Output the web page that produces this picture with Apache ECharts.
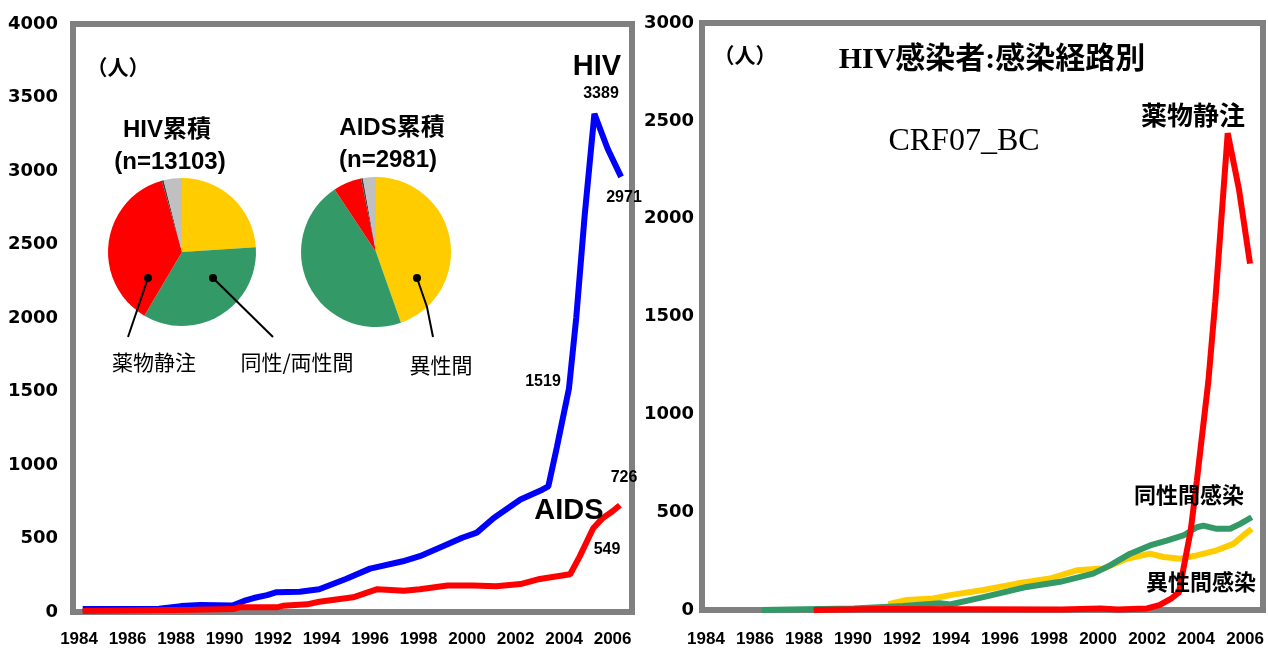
<!DOCTYPE html>
<html>
<head>
<meta charset="utf-8">
<script src="https://cdn.jsdelivr.net/npm/echarts@6/dist/echarts.min.js"></script>
<style>
html, body { margin: 0; padding: 0; background: #fff; }
#main { width: 1268px; height: 648px; }
</style>
</head>
<body>
<div id="main"></div>
<script>
// x tick labels (both panels)
var yearTicks = [1984, 1986, 1988, 1990, 1992, 1994, 1996, 1998, 2000, 2002, 2004, 2006];

// left panel: reported HIV / AIDS
var hivYears = [1984.15, 1987.3, 1988.2, 1989.0, 1990.35, 1990.8, 1991.2, 1991.75, 1992.15, 1993.1, 1993.9, 1995.0, 1996.0, 1997.35, 1998.05, 1999.0, 1999.8, 2000.4, 2001.1, 2002.2, 2003.1, 2003.35, 2003.7, 2004.2, 2004.5, 2004.85, 2005.25, 2005.8, 2006.35];
var hivValues = [20, 22, 40, 47, 45, 75, 95, 115, 135, 138, 155, 225, 295, 345, 380, 447, 505, 540, 640, 765, 832, 855, 1120, 1519, 2000, 2700, 3389, 3150, 2960];
var aidsYears = [1984.15, 1988.7, 1990.35, 1990.6, 1992.15, 1992.4, 1993.4, 1993.9, 1995.3, 1996.3, 1997.4, 1998.05, 1999.2, 2000.25, 2001.2, 2002.2, 2003.0, 2004.25, 2004.65, 2005.2, 2005.6, 2006.0, 2006.3];
var aidsValues = [7, 15, 20, 32, 32, 42, 52, 70, 100, 155, 145, 155, 180, 180, 175, 190, 225, 257, 380, 570, 640, 685, 726];

// pies (share, %)
var pieNames = ['異性間', '同性/両性間', '薬物静注', 'その他', '不明'];
var hivPieValues = [24.0, 34.5, 37.1, 0.4, 4.0];
var aidsPieValues = [44.6, 46.1, 6.1, 0.4, 2.8];
var pieColors = ['#FFCC00', '#339966', '#FF0000', '#404040', '#C0C0C0'];

// right panel: HIV by route
var iduYears = [1988.4, 1991.0, 1998.5, 2000.1, 2000.8, 2002.0, 2002.5, 2003.0, 2003.3, 2003.78, 2004.03, 2004.5, 2004.78, 2005.29, 2005.75, 2006.2];
var iduValues = [0, 5, 3, 8, 2, 8, 25, 60, 90, 406, 660, 1168, 1574, 2437, 2150, 1770];
var homoYears = [1986.27, 1988.04, 1990.04, 1992.05, 1993.55, 1993.96, 1995.32, 1997.09, 1998.45, 1999.8, 2000.49, 2001.31, 2002.12, 2002.8, 2003.48, 2004.03, 2004.3, 2004.84, 2005.39, 2005.8, 2006.27];
var homoValues = [0, 4, 8, 20, 35, 28, 66, 118, 144, 186, 228, 288, 330, 355, 381, 423, 431, 415, 415, 440, 474];
var heteroYears = [1991.44, 1992.19, 1993.28, 1993.96, 1995.32, 1996.68, 1998.04, 1999.13, 2000.22, 2001.17, 2002.12, 2002.67, 2003.35, 2004.03, 2004.84, 2005.52, 2005.93, 2006.27];
var heteroValues = [30, 51, 59, 76, 102, 135, 161, 203, 212, 262, 288, 271, 262, 279, 305, 338, 381, 415];

function pairs(xs, ys) {
  return xs.map(function (x, i) { return [x, ys[i]]; });
}
function pieData(vals) {
  return vals.map(function (v, i) {
    return { name: pieNames[i], value: v, itemStyle: { color: pieColors[i] } };
  });
}
function txt(text, x, y, font, align) {
  return {
    type: 'text', z: 100,
    style: {
      text: text, x: x, y: y, font: font, fill: '#000',
      align: align || 'center', verticalAlign: 'middle',
      textAlign: align || 'center', textVerticalAlign: 'middle'
    }
  };
}
function plain(v) { return String(Math.round(v)); }

var cjk = '"Noto Sans CJK JP"';

var myChart = echarts.init(document.getElementById('main'));

var option = {
  backgroundColor: '#fff',
  animation: false,
  grid: [
    { left: 73, right: 636, top: 24, bottom: 35, show: true, backgroundColor: '#fff', borderColor: '#808080', borderWidth: 6 },
    { left: 702, right: 5, top: 23, bottom: 37, show: true, backgroundColor: '#fff', borderColor: '#808080', borderWidth: 6 }
  ],
  xAxis: [0, 1].map(function (g) {
    return {
      type: 'value', gridIndex: g,
      min: g === 0 ? 1983.75 : 1983.84,
      max: g === 0 ? 2006.8 : 2006.73,
      axisLine: { show: false }, axisTick: { show: false }, splitLine: { show: false },
      axisLabel: {
        customValues: yearTicks, margin: g === 0 ? 19 : 21,
        fontFamily: 'Liberation Sans', fontWeight: 'bold', fontSize: 17, color: '#000',
        formatter: plain
      }
    };
  }),
  yAxis: [
    {
      type: 'value', gridIndex: 0, min: 0, max: 4000, interval: 500,
      axisLine: { show: false }, axisTick: { show: false }, splitLine: { show: false },
      axisLabel: { margin: 15, fontFamily: 'DejaVu Sans', fontWeight: 'bold', fontSize: 18, color: '#000', formatter: plain }
    },
    {
      type: 'value', gridIndex: 1, min: 0, max: 3000, interval: 500,
      axisLine: { show: false }, axisTick: { show: false }, splitLine: { show: false },
      axisLabel: { margin: 8, fontFamily: 'DejaVu Sans', fontWeight: 'bold', fontSize: 18, color: '#000', formatter: plain }
    }
  ],
  series: [
    { name: 'HIV', type: 'line', xAxisIndex: 0, yAxisIndex: 0, data: pairs(hivYears, hivValues),
      showSymbol: false, silent: true, lineStyle: { color: '#0000FF', width: 6 }, z: 5 },
    { name: 'AIDS', type: 'line', xAxisIndex: 0, yAxisIndex: 0, data: pairs(aidsYears, aidsValues),
      showSymbol: false, silent: true, lineStyle: { color: '#FF0000', width: 6 }, z: 5 },
    { name: '異性間感染', type: 'line', xAxisIndex: 1, yAxisIndex: 1, data: pairs(heteroYears, heteroValues),
      showSymbol: false, silent: true, lineStyle: { color: '#FFCC00', width: 6 }, z: 5 },
    { name: '同性間感染', type: 'line', xAxisIndex: 1, yAxisIndex: 1, data: pairs(homoYears, homoValues),
      showSymbol: false, silent: true, lineStyle: { color: '#339966', width: 6 }, z: 6 },
    { name: '薬物静注', type: 'line', xAxisIndex: 1, yAxisIndex: 1, data: pairs(iduYears, iduValues),
      showSymbol: false, silent: true, lineStyle: { color: '#FF0000', width: 6 }, z: 7 },
    { name: 'HIV累積', type: 'pie', center: [182, 252], radius: 74, startAngle: 90, silent: true,
      label: { show: false }, labelLine: { show: false }, data: pieData(hivPieValues), z: 4 },
    { name: 'AIDS累積', type: 'pie', center: [376, 252], radius: 75, startAngle: 90, silent: true,
      label: { show: false }, labelLine: { show: false }, data: pieData(aidsPieValues), z: 4 }
  ],
  graphic: [
    // pie pointers
    { type: 'polyline', z: 50, shape: { points: [[148, 278], [128, 337]] }, style: { stroke: '#000', lineWidth: 2 } },
    { type: 'polyline', z: 50, shape: { points: [[213, 278], [273, 337]] }, style: { stroke: '#000', lineWidth: 2 } },
    { type: 'polyline', z: 50, shape: { points: [[417, 278], [427, 307], [433, 337]] }, style: { stroke: '#000', lineWidth: 2 } },
    { type: 'circle', z: 51, shape: { cx: 148, cy: 278, r: 4 }, style: { fill: '#000' } },
    { type: 'circle', z: 51, shape: { cx: 213, cy: 278, r: 4 }, style: { fill: '#000' } },
    { type: 'circle', z: 51, shape: { cx: 417, cy: 278, r: 4 }, style: { fill: '#000' } },

    // left panel texts
    txt('（人）', 118, 67, 'bold 21px ' + cjk),
    txt('HIV累積', 167, 130, 'bold 24px "Liberation Sans", ' + cjk),
    txt('(n=13103)', 170, 162, 'bold 24px "Liberation Sans"'),
    txt('AIDS累積', 392, 128, 'bold 24px "Liberation Sans", ' + cjk),
    txt('(n=2981)', 388, 160, 'bold 24px "Liberation Sans"'),
    txt('薬物静注', 154, 362, '21px ' + cjk),
    txt('同性/両性間', 297, 362, '21px ' + cjk),
    txt('異性間', 441, 365, '21px ' + cjk),
    txt('HIV', 597, 67, 'bold 29px "Liberation Sans"'),
    txt('3389', 601, 94, 'bold 16px "Liberation Sans"'),
    txt('2971', 624, 198, 'bold 16px "Liberation Sans"'),
    txt('1519', 543, 382, 'bold 16px "Liberation Sans"'),
    txt('AIDS', 569, 511, 'bold 29px "Liberation Sans"'),
    txt('726', 624, 478, 'bold 16px "Liberation Sans"'),
    txt('549', 607, 550, 'bold 16px "Liberation Sans"'),

    // right panel texts
    txt('（人）', 745, 55, 'bold 21px ' + cjk),
    txt('HIV感染者:感染経路別', 992, 60, 'bold 30px "Liberation Serif", ' + cjk),
    txt('CRF07_BC', 964, 142, '32px "Liberation Serif"'),
    txt('薬物静注', 1193, 115, 'bold 26px ' + cjk),
    txt('同性間感染', 1189, 495, 'bold 22px ' + cjk),
    txt('異性間感染', 1201, 582, 'bold 22px ' + cjk)
  ]
};

myChart.setOption(option);
</script>
</body>
</html>
